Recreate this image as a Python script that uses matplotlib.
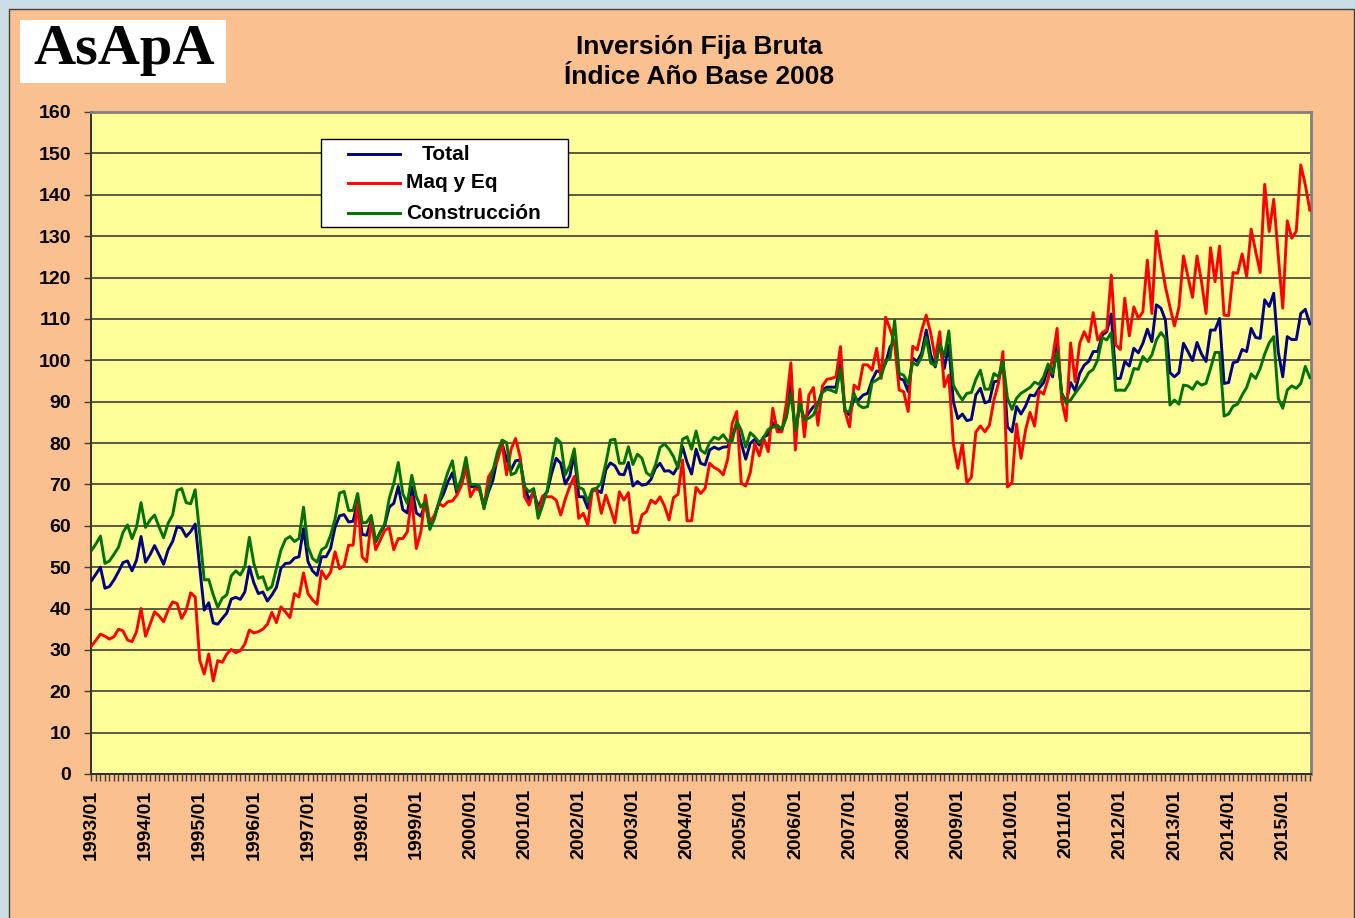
import numpy as np
import matplotlib
matplotlib.use("Agg")
import matplotlib.pyplot as plt
from matplotlib.patches import Rectangle
from matplotlib.lines import Line2D

# ---------------- data (monthly, 1993/01 .. 2015/07) ----------------
years = list(range(1993, 2016))
tick_labels = [f"{y}/01" for y in years]

total = [
    46.7, 48.3, 50.0, 44.9, 45.3, 46.9, 48.9, 51.1, 51.5, 49.1, 51.7, 57.4,
    51.2, 53.0, 55.2, 53.0, 50.7, 54.2, 56.2, 59.8, 59.4, 57.4, 58.6, 60.4,
    50.1, 39.6, 41.4, 36.5, 36.2, 37.6, 38.9, 42.3, 42.7, 42.2, 44.0, 50.1,
    46.2, 43.6, 44.0, 41.8, 43.3, 45.1, 49.7, 50.9, 51.0, 52.2, 52.5, 59.3,
    51.3, 49.1, 48.0, 52.5, 52.5, 54.5, 59.7, 62.4, 62.7, 60.9, 61.1, 66.0,
    57.9, 57.7, 61.3, 56.1, 58.4, 60.1, 64.5, 65.4, 69.5, 63.9, 63.1, 69.4,
    63.1, 62.3, 65.4, 60.5, 62.1, 65.5, 67.6, 70.6, 72.8, 67.8, 70.2, 74.0,
    69.4, 69.5, 69.0, 64.5, 68.2, 71.1, 76.6, 79.9, 76.0, 73.5, 75.7, 75.9,
    69.4, 66.2, 68.2, 64.5, 67.0, 68.2, 72.7, 76.3, 75.1, 70.1, 72.0, 77.3,
    67.0, 67.0, 64.2, 68.6, 68.6, 68.0, 73.5, 75.2, 74.5, 72.5, 72.3, 75.3,
    69.6, 70.7, 69.8, 70.0, 71.2, 73.9, 75.1, 73.2, 73.3, 72.5, 74.4, 79.1,
    75.3, 72.5, 78.5, 75.1, 74.7, 78.3, 79.0, 78.5, 79.0, 79.1, 81.5, 84.7,
    79.9, 76.1, 79.9, 80.9, 79.5, 81.5, 82.0, 84.9, 83.3, 83.3, 86.4, 95.1,
    82.5, 89.2, 85.7, 87.3, 88.8, 89.4, 92.8, 93.5, 93.5, 93.5, 99.7, 87.6,
    86.8, 90.8, 90.4, 91.6, 92.0, 95.2, 97.4, 97.2, 99.3, 103.3, 104.5, 95.6,
    95.2, 92.4, 100.5, 99.7, 101.8, 107.3, 101.3, 98.4, 104.1, 98.0, 103.7, 90.0,
    85.9, 87.0, 85.4, 85.7, 91.6, 93.2, 89.7, 90.1, 94.8, 95.0, 99.7, 83.9,
    82.7, 88.8, 87.0, 88.9, 91.6, 91.4, 93.2, 94.6, 98.0, 96.0, 103.9, 92.0,
    90.0, 94.6, 92.6, 96.8, 98.8, 99.7, 102.1, 102.1, 106.1, 106.9, 111.2, 95.6,
    95.6, 99.7, 98.6, 102.9, 101.8, 104.1, 107.5, 104.5, 113.4, 112.6, 109.7, 97.0,
    96.0, 97.0, 104.1, 102.1, 99.9, 104.3, 101.5, 99.7, 107.3, 107.3, 110.1, 94.4,
    94.6, 99.4, 99.7, 102.6, 102.1, 107.7, 105.5, 105.3, 114.6, 113.0, 116.2, 102.1,
    96.0, 105.7, 105.0, 105.0, 111.3, 112.3, 108.8,
]

maq_eq = [
    30.9, 32.3, 33.8, 33.3, 32.6, 33.2, 35.0, 34.6, 32.4, 32.0, 34.4, 40.0,
    33.3, 36.2, 39.2, 38.2, 36.8, 39.6, 41.6, 41.2, 37.6, 39.6, 43.8, 42.8,
    27.5, 24.2, 29.0, 22.5, 27.4, 27.0, 29.0, 30.1, 29.3, 29.8, 31.4, 34.8,
    34.1, 34.4, 35.0, 36.2, 39.1, 36.6, 40.4, 39.2, 37.8, 43.6, 42.8, 48.6,
    43.6, 42.1, 41.0, 49.1, 47.2, 48.8, 53.7, 49.6, 50.4, 55.3, 55.3, 65.8,
    52.5, 51.3, 61.3, 54.2, 56.5, 58.9, 59.5, 54.2, 56.9, 56.9, 58.5, 67.0,
    54.5, 58.5, 67.4, 60.9, 62.5, 65.4, 64.7, 65.8, 66.0, 67.4, 69.8, 74.2,
    67.0, 69.0, 68.6, 64.5, 71.8, 73.6, 75.8, 79.9, 72.3, 78.5, 81.1, 76.7,
    67.0, 65.0, 68.6, 63.0, 67.2, 67.0, 67.0, 66.2, 62.6, 66.4, 69.5, 71.9,
    61.8, 63.0, 60.2, 68.6, 68.6, 63.0, 67.4, 64.2, 60.7, 68.2, 66.2, 68.0,
    58.4, 58.4, 62.6, 63.4, 66.2, 65.4, 67.0, 64.8, 61.4, 66.8, 67.6, 75.9,
    61.2, 61.2, 69.3, 67.8, 69.0, 75.1, 74.1, 73.5, 72.3, 76.1, 84.7, 87.6,
    70.3, 69.6, 72.8, 79.9, 76.9, 81.1, 77.9, 88.4, 82.7, 82.7, 89.6, 99.4,
    78.3, 93.0, 81.5, 91.6, 93.4, 84.3, 93.8, 95.4, 95.6, 96.0, 103.3, 87.6,
    83.9, 94.0, 93.0, 98.9, 98.9, 97.6, 102.9, 95.6, 110.4, 107.5, 104.0, 92.8,
    92.4, 87.6, 103.4, 102.5, 107.3, 110.9, 106.5, 100.5, 106.9, 93.6, 96.4, 79.9,
    73.9, 79.9, 70.4, 71.7, 82.7, 84.1, 82.7, 84.3, 90.4, 94.4, 102.1, 69.4,
    70.4, 84.6, 76.3, 83.1, 87.4, 84.1, 92.6, 91.8, 95.5, 100.5, 107.7, 90.4,
    85.4, 104.2, 94.8, 104.1, 106.9, 104.5, 111.5, 104.9, 106.7, 107.3, 120.6, 103.7,
    102.6, 115.0, 105.9, 112.9, 110.1, 111.7, 124.2, 111.3, 131.2, 124.2, 117.8, 112.9,
    108.3, 112.8, 125.2, 120.2, 115.2, 125.2, 119.0, 111.3, 127.2, 119.0, 127.6, 110.9,
    110.8, 121.2, 121.0, 125.7, 120.2, 131.7, 126.3, 121.2, 142.5, 131.1, 138.9, 125.4,
    112.6, 133.7, 129.5, 131.2, 147.2, 142.4, 136.3,
]

construccion = [
    54.0, 55.6, 57.5, 50.9, 51.5, 53.1, 54.8, 58.4, 60.2, 56.9, 59.7, 65.6,
    59.6, 61.4, 62.6, 59.7, 57.1, 60.6, 62.6, 68.5, 69.0, 65.6, 65.3, 68.7,
    58.0, 46.9, 47.0, 43.3, 40.3, 42.5, 43.3, 47.9, 49.1, 48.1, 50.1, 57.2,
    50.9, 47.3, 47.7, 44.5, 45.3, 49.7, 54.1, 56.7, 57.4, 56.2, 56.9, 64.5,
    54.9, 52.1, 51.2, 54.2, 54.9, 57.7, 61.7, 67.9, 68.3, 63.7, 63.7, 67.8,
    60.7, 60.8, 62.5, 56.3, 58.5, 60.5, 66.6, 70.2, 75.3, 67.8, 65.4, 72.2,
    67.1, 64.5, 65.8, 59.1, 61.7, 65.8, 69.5, 73.0, 75.7, 68.7, 71.4, 76.5,
    70.0, 70.0, 69.5, 64.1, 69.0, 73.5, 77.9, 80.7, 80.1, 72.3, 72.8, 75.3,
    69.4, 68.2, 69.0, 61.8, 65.0, 68.6, 75.2, 81.1, 80.1, 72.3, 74.5, 78.6,
    69.3, 68.8, 65.8, 68.8, 69.1, 70.4, 75.1, 80.7, 80.9, 75.1, 75.1, 79.1,
    74.8, 77.3, 76.3, 72.8, 72.0, 74.7, 78.9, 79.8, 78.5, 76.7, 73.9, 80.9,
    81.5, 78.5, 82.9, 78.3, 77.5, 80.1, 81.4, 80.9, 82.0, 80.5, 80.5, 85.3,
    83.1, 79.0, 82.5, 81.5, 80.1, 81.4, 83.3, 83.8, 84.3, 83.3, 86.2, 92.0,
    83.0, 89.6, 85.6, 86.0, 86.8, 89.2, 92.2, 93.0, 92.7, 92.2, 98.0, 87.7,
    87.6, 92.0, 89.2, 88.5, 88.8, 94.6, 95.2, 96.0, 99.7, 100.6, 109.6, 96.8,
    96.4, 94.4, 99.4, 98.8, 100.9, 105.5, 99.3, 98.7, 103.9, 100.9, 107.1, 94.0,
    92.0, 90.4, 92.0, 92.2, 95.4, 97.6, 93.0, 93.0, 96.8, 96.0, 99.8, 90.8,
    88.1, 90.8, 92.0, 92.7, 93.4, 94.7, 94.2, 96.0, 99.1, 96.7, 102.1, 92.2,
    89.6, 90.4, 92.0, 93.5, 95.0, 97.0, 97.8, 100.1, 105.5, 104.9, 106.7, 92.7,
    92.8, 92.7, 94.4, 98.0, 97.8, 100.9, 99.7, 101.3, 104.9, 106.7, 105.3, 89.2,
    90.4, 89.4, 94.0, 93.8, 93.0, 94.8, 94.0, 94.4, 98.0, 101.9, 101.9, 86.5,
    87.0, 88.9, 89.4, 91.6, 93.4, 96.7, 95.6, 98.0, 101.5, 104.2, 105.7, 90.8,
    88.4, 92.8, 93.8, 93.2, 94.4, 98.5, 95.8,
]

series_names = ["Total", "Maq y Eq", "Construcción"]
series_colors = ["#000080", "#FF0000", "#007000"]

# ---------------- figure ----------------
W, H = 1355, 918
fig = plt.figure(figsize=(W / 100, H / 100), dpi=100)
fig.patch.set_facecolor("#CCDDE5")

def fx(px):
    return px / W

def fy(py):
    return 1 - py / H

# peach chart frame (behind everything)
fig.patches.append(Rectangle((fx(8.5), -0.01), fx(1353.5) - fx(8.5), fy(9) + 0.01,
                             transform=fig.transFigure, facecolor="#FAC08F",
                             edgecolor="#404040", lw=1.0, zorder=-10))
# logo
fig.patches.append(Rectangle((fx(20), fy(83)), fx(226) - fx(20), fy(20) - fy(83),
                             transform=fig.transFigure, facecolor="white",
                             edgecolor="none", zorder=-5))
fig.text(fx(124), fy(64), "AsApA", ha="center", va="baseline", fontsize=42,
         fontweight="heavy", family="Liberation Serif", color="black")

# title
fig.text(fx(699), fy(47), "Inversión Fija Bruta", ha="center", va="center",
         fontsize=19, fontweight="bold", family="Liberation Sans", color="black")
fig.text(fx(699), fy(77), "Índice Año Base 2008", ha="center", va="center",
         fontsize=19, fontweight="bold", family="Liberation Sans", color="black")

# axes
ax = fig.add_axes([fx(90.5), fy(774), (1310.5 - 90.5) / W, (774 - 112) / H])
ax.set_facecolor("#FFFF99")
ax.set_zorder(1)

x = np.arange(len(total))
lines = []
for vals, name, col in zip([total, maq_eq, construccion], series_names, series_colors):
    ln, = ax.plot(x, vals, color=col, lw=2.1, label=name, solid_joinstyle="round", zorder=3)
    lines.append(ln)

ax.set_xlim(-0.2, len(total) - 1 + 0.15)
ax.set_ylim(0, 160)
ax.set_yticks(np.arange(0, 161, 10))
ax.yaxis.grid(True, color="#2E2E2E", lw=1.1)
ax.set_axisbelow(True)

major_pos = [12 * i for i in range(len(tick_labels))]
ax.set_xticks(major_pos)
ax.set_xticklabels(tick_labels)
ax.set_xticks(np.arange(0, len(total)), minor=True)

for lab in ax.get_xticklabels() + ax.get_yticklabels():
    lab.set_fontweight("bold")
    lab.set_family("Liberation Sans")
ax.tick_params(axis="x", which="both", direction="out", length=5, width=1,
               color="#404040", labelsize=14, rotation=90, pad=6)
ax.tick_params(axis="y", which="major", direction="out", length=5, width=1,
               color="#404040", labelsize=14, pad=9)

for side in ["left", "bottom"]:
    ax.spines[side].set_color("#303030")
    ax.spines[side].set_linewidth(1.4)
for side in ["top", "right"]:
    ax.spines[side].set_color("#808080")
    ax.spines[side].set_linewidth(2.0)

# legend box (drawn in figure pixels, above the axes)
fig.patches.append(Rectangle((fx(321), fy(227)), fx(568) - fx(321), fy(139) - fy(227),
                             transform=fig.transFigure, facecolor="white",
                             edgecolor="black", lw=1.0, zorder=5))
leg_rows = [(154, 422), (183, 406), (213, 406)]
for ln, (py, tx) in zip(lines, leg_rows):
    fig.add_artist(Line2D([fx(348), fx(400)], [fy(py), fy(py)], transform=fig.transFigure,
                          color=ln.get_color(), lw=2.1, zorder=6))
    fig.text(fx(tx), fy(py), ln.get_label(), ha="left", va="center", fontsize=15,
             fontweight="bold", family="Liberation Sans", color="black", zorder=6)

fig.savefig("out.png", dpi=100, facecolor=fig.get_facecolor())
